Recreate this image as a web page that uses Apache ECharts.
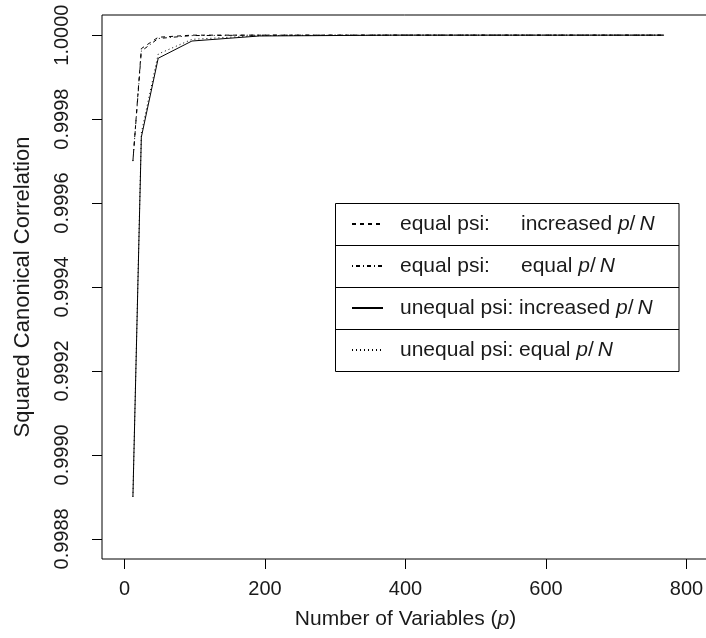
<!DOCTYPE html>
<html>
<head>
<meta charset="utf-8">
<style>
  html, body { margin: 0; padding: 0; background: #fff; }
  #chart { width: 706px; height: 638px; }
</style>
<script src="https://cdn.jsdelivr.net/npm/echarts@6/dist/echarts.min.js"></script>
</head>
<body>
<div id="chart"></div>
<script>
// ---- data ----
const pValues = [12, 24, 48, 96, 192, 384, 768];
const equalPsiIncreased = [0.99970, 0.999968, 0.999995, 1.0, 1.0, 1.0, 1.0];
const equalPsiEqual = [0.99970, 0.999962, 0.999992, 0.999999, 1.0, 1.0, 1.0];
const unequalPsiIncreased = [0.99890, 0.999757, 0.999945, 0.999986, 0.999998, 1.0, 1.0];
const unequalPsiEqual = [0.99890, 0.999767, 0.999955, 0.999990, 0.999999, 1.0, 1.0];
const xTicks = [0, 200, 400, 600, 800];
const yTicks = [0.9988, 0.9990, 0.9992, 0.9994, 0.9996, 0.9998, 1.0000];
const seriesNames = ['eqInc', 'eqEq', 'uneqInc', 'uneqEq'];
const legendLabels = {
  eqInc: '{a|equal psi:}{b|increased }{i|p}{s|/}{i|N}',
  eqEq: '{a|equal psi:}{b|equal }{i|p}{s|/}{i|N}',
  uneqInc: '{b|unequal psi: increased }{i|p}{s|/}{i|N}',
  uneqEq: '{b|unequal psi: equal }{i|p}{s|/}{i|N}'
};

const FONT = '"Liberation Sans", Arial, Helvetica, sans-serif';
const TXT = '#1a1a1a';

function pairs(ys) { return pValues.map((p, i) => [p, ys[i]]); }

const chart = echarts.init(document.getElementById('chart'), null, { renderer: 'canvas' });

const lineStyles = [
  { type: [4, 4] },
  { type: [1, 3, 4, 3] },
  { type: 'solid' },
  { type: [1, 3] }
];
const seriesData = [equalPsiIncreased, equalPsiEqual, unequalPsiIncreased, unequalPsiEqual];

const richText = {
  a: { fontFamily: FONT, fontSize: 21, color: TXT, width: 121, lineHeight: 22 },
  b: { fontFamily: FONT, fontSize: 21, color: TXT, lineHeight: 22 },
  i: { fontFamily: FONT, fontSize: 21, color: TXT, fontStyle: 'italic', lineHeight: 22 },
  s: { fontFamily: FONT, fontSize: 21, color: TXT, lineHeight: 22, padding: [0, 4, 0, 0] }
};

const option = {
  backgroundColor: '#fff',
  animation: false,
  grid: {
    left: 102, top: 15, width: 607, bottom: 79,
    show: true, borderColor: '#000', borderWidth: 1, backgroundColor: 'transparent',
    containLabel: false, outerBoundsMode: 'none'
  },
  xAxis: {
    type: 'value', min: -32, max: 832,
    name: 'Number of Variables ({i|p})',
    nameLocation: 'middle', nameGap: 50,
    nameTextStyle: {
      fontFamily: FONT, fontSize: 21, color: TXT,
      rich: {
        i: { fontFamily: FONT, fontSize: 21, color: TXT, fontStyle: 'italic' }
      }
    },
    axisLine: { show: false, onZero: false },
    splitLine: { show: false },
    axisTick: { show: true, length: 10, lineStyle: { color: '#000', width: 1 }, customValues: xTicks },
    axisLabel: {
      margin: 20, fontFamily: FONT, fontSize: 20, color: TXT,
      customValues: xTicks, formatter: v => String(v)
    }
  },
  yAxis: {
    type: 'value', min: 0.998752, max: 1.000048,
    name: 'Squared Canonical Correlation',
    nameLocation: 'middle', nameGap: 68,
    nameTextStyle: { fontFamily: FONT, fontSize: 22, color: TXT },
    axisLine: { show: false, onZero: false },
    splitLine: { show: false },
    axisTick: { show: true, length: 10, lineStyle: { color: '#000', width: 1 }, customValues: yTicks },
    axisLabel: {
      margin: 30, rotate: 90, fontFamily: FONT, fontSize: 20, color: TXT,
      customValues: yTicks, formatter: v => Number(v).toFixed(4)
    }
  },
  legend: {
    orient: 'vertical',
    left: 351, top: 213,
    padding: 0,
    itemWidth: 31, itemHeight: 14, itemGap: 20,
    selectedMode: false,
    data: seriesNames,
    formatter: name => legendLabels[name],
    itemStyle: { color: 'rgba(0,0,0,0)', borderWidth: 0, opacity: 0 },
    textStyle: { fontFamily: FONT, fontSize: 21, color: TXT, lineHeight: 22, padding: [0, 0, 0, 12], rich: richText }
  },
  graphic: [
    { type: 'rect', shape: { x: 335.5, y: 203.5, width: 343.5, height: 168 }, style: { fill: 'none', stroke: '#000', lineWidth: 1 }, z: 1 },
    { type: 'line', shape: { x1: 335.5, y1: 245.5, x2: 679, y2: 245.5 }, style: { stroke: '#000', lineWidth: 1 }, z: 1 },
    { type: 'line', shape: { x1: 335.5, y1: 287.5, x2: 679, y2: 287.5 }, style: { stroke: '#000', lineWidth: 1 }, z: 1 },
    { type: 'line', shape: { x1: 335.5, y1: 329.5, x2: 679, y2: 329.5 }, style: { stroke: '#000', lineWidth: 1 }, z: 1 }
  ],
  series: seriesNames.map((n, k) => ({
    name: n,
    type: 'line',
    data: pairs(seriesData[k]),
    symbol: 'none',
    showSymbol: false,
    lineStyle: Object.assign({ color: '#000', width: 1 }, lineStyles[k]),
    itemStyle: { color: '#000' },
    emphasis: { disabled: true },
    z: 2
  }))
};

chart.setOption(option);
</script>
</body>
</html>
